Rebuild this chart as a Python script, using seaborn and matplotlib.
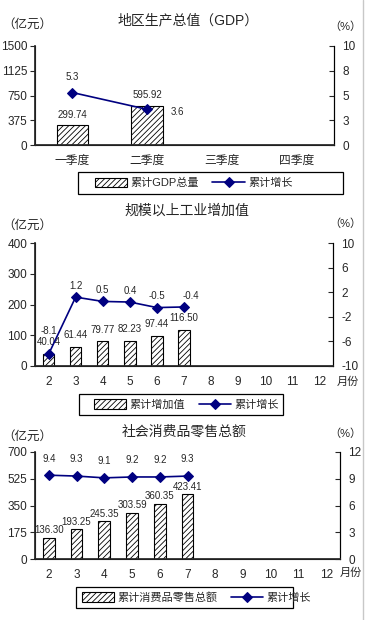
import matplotlib
matplotlib.use("Agg")
import matplotlib.pyplot as plt
import seaborn as sns
import numpy as np
import pandas as pd

# 데이터
quarters = ["一季度", "二季度", "三季度", "四季度"]
gdp_total = [299.74, 595.92]
gdp_growth = [5.3, 3.6]

months = ["2", "3", "4", "5", "6", "7", "8", "9", "10", "11", "12"]
ind_total = [40.04, 61.44, 79.77, 82.23, 97.44, 116.50]
ind_growth = [-8.1, 1.2, 0.5, 0.4, -0.5, -0.4]

retail_total = [136.30, 193.25, 245.35, 303.59, 360.35, 423.41]
retail_growth = [9.4, 9.3, 9.1, 9.2, 9.2, 9.3]

sns.set_theme(style="white")
plt.rcParams['font.family'] = ['Liberation Sans', 'Noto Sans CJK SC', 'DejaVu Sans']
plt.rcParams['hatch.linewidth'] = 0.6
plt.rcParams['axes.unicode_minus'] = False

W, H = 365, 620
fig = plt.figure(figsize=(W / 100, H / 100), dpi=100)
NAVY = "#000080"


def box(l, t, r, b):
    return [l / W, 1 - b / H, (r - l) / W, (b - t) / H]


def ftext(x, y, s, **kw):
    fig.text(x / W, 1 - y / H, s, va="center", **kw)


def panel(rect, cats, totals, growth, ylim, yticks, rlim, rticks, rlabels,
          bar_pad, line_offs, bar_name, legend_box, legend_x, title, title_xy,
          unit_y, pct_xy, month_label):
    ax = fig.add_axes(box(*rect))
    df = pd.DataFrame({"cat": cats[:len(totals)], "val": totals})
    sns.barplot(data=df, x="cat", y="val", order=cats, ax=ax, color="white",
                edgecolor="black", linewidth=0.8, hatch="//////", width=0.42,
                label=bar_name)
    if ax.get_legend():
        ax.get_legend().remove()
    ax.set_xlim(-0.5, len(cats) - 0.5)
    ax.set_ylim(*ylim)
    ax.set_yticks(yticks)
    ax.set_yticklabels([str(v) for v in yticks])
    ax.set_xlabel("")
    ax.set_ylabel("")
    ax.set_xticks(np.arange(len(cats)))
    ax.set_xticklabels(cats)
    ax.set_xticks(np.arange(len(cats) + 1) - 0.5, minor=True)
    ax.tick_params(axis="x", which="major", length=0, pad=7, labelsize=8.5)
    ax.tick_params(axis="x", which="minor", length=3.5, direction="in", width=0.8)
    ax.tick_params(axis="y", length=3.5, direction="out", width=0.8, labelsize=8.5, pad=2,
                   left=True)
    ax.spines["top"].set_visible(False)
    for s in ["left", "bottom", "right"]:
        ax.spines[s].set_color("black")
        ax.spines[s].set_linewidth(0.8)
    for i, v in enumerate(totals):
        ax.annotate(f"{v:.2f}", (i, v), xytext=(0, bar_pad), textcoords="offset points",
                    ha="center", va="bottom", fontsize=7)

    ax2 = ax.twinx()
    pos = np.arange(len(growth))
    sns.lineplot(x=pos, y=growth, ax=ax2, color=NAVY, marker="D", markersize=5,
                 markeredgecolor=NAVY, linewidth=1.2, label="累计增长", legend=False)
    ax2.set_ylim(*rlim)
    ax2.set_yticks(rticks)
    ax2.set_yticklabels(rlabels)
    ax2.tick_params(axis="y", length=3.5, direction="in", width=0.8, labelsize=8.5, pad=6,
                    right=True)
    ax2.set_ylabel("")
    ax2.spines["top"].set_visible(False)
    ax2.spines["right"].set_color("black")
    ax2.spines["right"].set_linewidth(0.8)
    for i, v in enumerate(growth):
        dx, dy = line_offs[i]
        ax2.annotate(f"{v:.1f}", (i, v), xytext=(dx, dy), textcoords="offset points",
                     ha="center", va="center", fontsize=7)

    h1, l1 = ax.get_legend_handles_labels()
    h2, l2 = ax2.get_legend_handles_labels()
    bl, bt, br, bb = legend_box
    # 범례 테두리는 따로 그린다
    fig.add_artist(plt.Rectangle((bl / W, 1 - bb / H), (br - bl) / W, (bb - bt) / H,
                                 fill=False, edgecolor="black", linewidth=0.9,
                                 transform=fig.transFigure))
    fig.legend(h1[:1] + h2, [bar_name] + l2, loc="center left",
               bbox_to_anchor=(legend_x / W, 1 - (bt + bb) / 2 / H),
               ncol=2, frameon=False, fontsize=8, handlelength=2.9, handleheight=0.9,
               columnspacing=1.2, handletextpad=0.3, borderpad=0, borderaxespad=0)

    ftext(title_xy[0], title_xy[1], title, ha="center", fontsize=10)
    ftext(2, unit_y, "（亿元）", ha="left", fontsize=9)
    ftext(pct_xy[0], pct_xy[1], "（%）", ha="center", fontsize=8)
    if month_label:
        ftext(month_label[0], month_label[1], "月份", ha="center", fontsize=8)
    return ax, ax2


panel((35, 46, 334, 145), quarters, gdp_total, gdp_growth,
      (0, 1500), [0, 375, 750, 1125, 1500],
      (0, 10), [0, 2.5, 5, 7.5, 10], ["0", "3", "5", "8", "10"],
      4, [(0, 11), (22, -2)], "累计GDP总量", (78, 172, 343, 194), 95,
      "地区生产总值（GDP）", (188, 20), 25, (345, 27), None)

panel((35, 243, 333, 366), months, ind_total, ind_growth,
      (0, 400), [0, 100, 200, 300, 400],
      (-10, 10), [-10, -6, -2, 2, 6, 10], ["-10", "-6", "-2", "2", "6", "10"],
      5, [(0, 17), (0, 8), (0, 8), (0, 8), (0, 8), (5, 8)], "累计增加值",
      (79, 394, 283, 415), 94,
      "规模以上工业增加值", (187, 211), 226, (345, 224), (348, 382))

panel((35, 452, 340, 559), months, retail_total, retail_growth,
      (0, 700), [0, 175, 350, 525, 700],
      (0, 12), [0, 3, 6, 9, 12], ["0", "3", "6", "9", "12"],
      2, [(0, 12)] * 6, "累计消费品零售总额", (76, 587, 293, 608), 82,
      "社会消费品零售总额", (184, 432), 437, (345, 434), (351, 573))

fig.add_artist(plt.Line2D([363 / W, 363 / W], [0, 1], color="#c8c8c8", linewidth=1))

fig.savefig("out.png", dpi=100, facecolor="white")
